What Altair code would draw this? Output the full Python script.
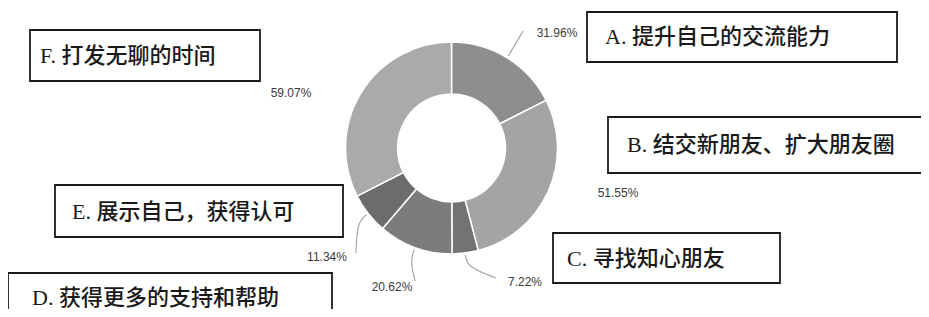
import altair as alt
import numpy as np
import pandas as pd

# ---- data ----
categories = ["A", "B", "C", "D", "E", "F"]
labels = ["A. 提升自己的交流能力", "B. 结交新朋友、扩大朋友圈", "C. 寻找知心朋友",
          "D. 获得更多的支持和帮助", "E. 展示自己，获得认可", "F. 打发无聊的时间"]
values = [31.96, 51.55, 7.22, 20.62, 11.34, 59.07]
pct_labels = ["31.96%", "51.55%", "7.22%", "20.62%", "11.34%", "59.07%"]

# ---- styles ----
colors = ["#8e8e8e", "#a4a4a4", "#737373", "#7c7c7c", "#6c6c6c", "#aaaaaa"]

# ---- layout (page pixel coordinates) ----
W, H = 913, 301
M = 8
CX, CY = 451.5 - M, 148 - M
R_OUT, R_IN = 106, 54

box_x = [587, 608, 553, 8, 55, 30]
box_x2 = [897, 928, 780, 332, 343, 260]
box_y = [12, 117, 233, 273, 185, 30]
box_y2 = [62, 173, 283, 330, 237, 81]
text_x = [605, 627, 567, 32, 72, 40]
text_y = [37, 145, 259, 298, 212, 56]
pct_x = [557, 618, 525, 392, 327, 291]
pct_y = [33, 193, 282, 287, 257, 93]
leader_end = {"A": (523, 31), "C": (496, 278), "D": (415, 281), "E": (356, 253)}

# ---- tables ----
df_arc = pd.DataFrame({"cat": categories, "value": values, "idx": range(len(values))})
df_box = pd.DataFrame({"cat": categories,
                       "x": [v - M for v in box_x], "x2": [v - M for v in box_x2],
                       "y": [v - M for v in box_y], "y2": [v - M for v in box_y2]})
df_text = pd.DataFrame({"label": labels, "x": [v - M for v in text_x], "y": [v - M for v in text_y]})
df_pct = pd.DataFrame({"pct": pct_labels, "x": [v - M for v in pct_x], "y": [v - M for v in pct_y]})

tot = sum(values)
cum = np.cumsum([0] + values)
mid = (cum[:-1] + cum[1:]) / 2 / tot * 2 * np.pi
rows = []
for i, c in enumerate(categories):
    if c not in leader_end:
        continue
    a = mid[i]
    for k, r in enumerate([R_OUT + 2, R_OUT + 14]):
        rows.append(dict(cat=c, k=k, x=CX + r * np.sin(a), y=CY - r * np.cos(a)))
    ex, ey = leader_end[c]
    rows.append(dict(cat=c, k=2, x=ex - M, y=ey - M))
df_lead = pd.DataFrame(rows)

xs = alt.Scale(domain=[0, W], range=[0, W], nice=False, zero=False)
ys = alt.Scale(domain=[0, H], range=[0, H], nice=False, zero=False)

arc = alt.Chart(df_arc).mark_arc(
    innerRadius=R_IN, outerRadius=R_OUT, stroke="white", strokeWidth=1.5
).encode(
    theta=alt.Theta("value:Q", stack=True),
    color=alt.Color("cat:N", scale=alt.Scale(domain=categories, range=colors), legend=None),
    order=alt.Order("idx:Q"),
    x=alt.value(CX),
    y=alt.value(CY),
)

leaders = alt.Chart(df_lead).mark_line(
    interpolate="basis", color="#a8a8a8", strokeWidth=1.2
).encode(
    x=alt.X("x:Q", scale=xs, axis=None),
    y=alt.Y("y:Q", scale=ys, axis=None),
    detail="cat:N",
    order="k:Q",
)

boxes = alt.Chart(df_box).mark_rect(
    fill="white", stroke="#1a1a1a", strokeWidth=1.8
).encode(
    x=alt.X("x:Q", scale=xs, axis=None), x2="x2:Q",
    y=alt.Y("y:Q", scale=ys, axis=None), y2="y2:Q",
)

texts = alt.Chart(df_text).mark_text(
    align="left", baseline="middle", font="Liberation Serif, Noto Sans CJK SC",
    fontSize=22, fontWeight=500, color="#1a1a1a"
).encode(
    x=alt.X("x:Q", scale=xs, axis=None),
    y=alt.Y("y:Q", scale=ys, axis=None),
    text="label:N",
)

pcts = alt.Chart(df_pct).mark_text(
    align="center", baseline="middle", font="Liberation Sans",
    fontSize=12, color="#3a3a3a"
).encode(
    x=alt.X("x:Q", scale=xs, axis=None),
    y=alt.Y("y:Q", scale=ys, axis=None),
    text="pct:N",
)

chart = alt.layer(arc, leaders, boxes, texts, pcts).properties(
    width=W, height=H, padding=0,
    autosize=alt.AutoSizeParams(type="none"),
    background="white",
).configure_view(stroke=None)

chart.save("out.html", embed_options={"renderer": "svg", "actions": False})
